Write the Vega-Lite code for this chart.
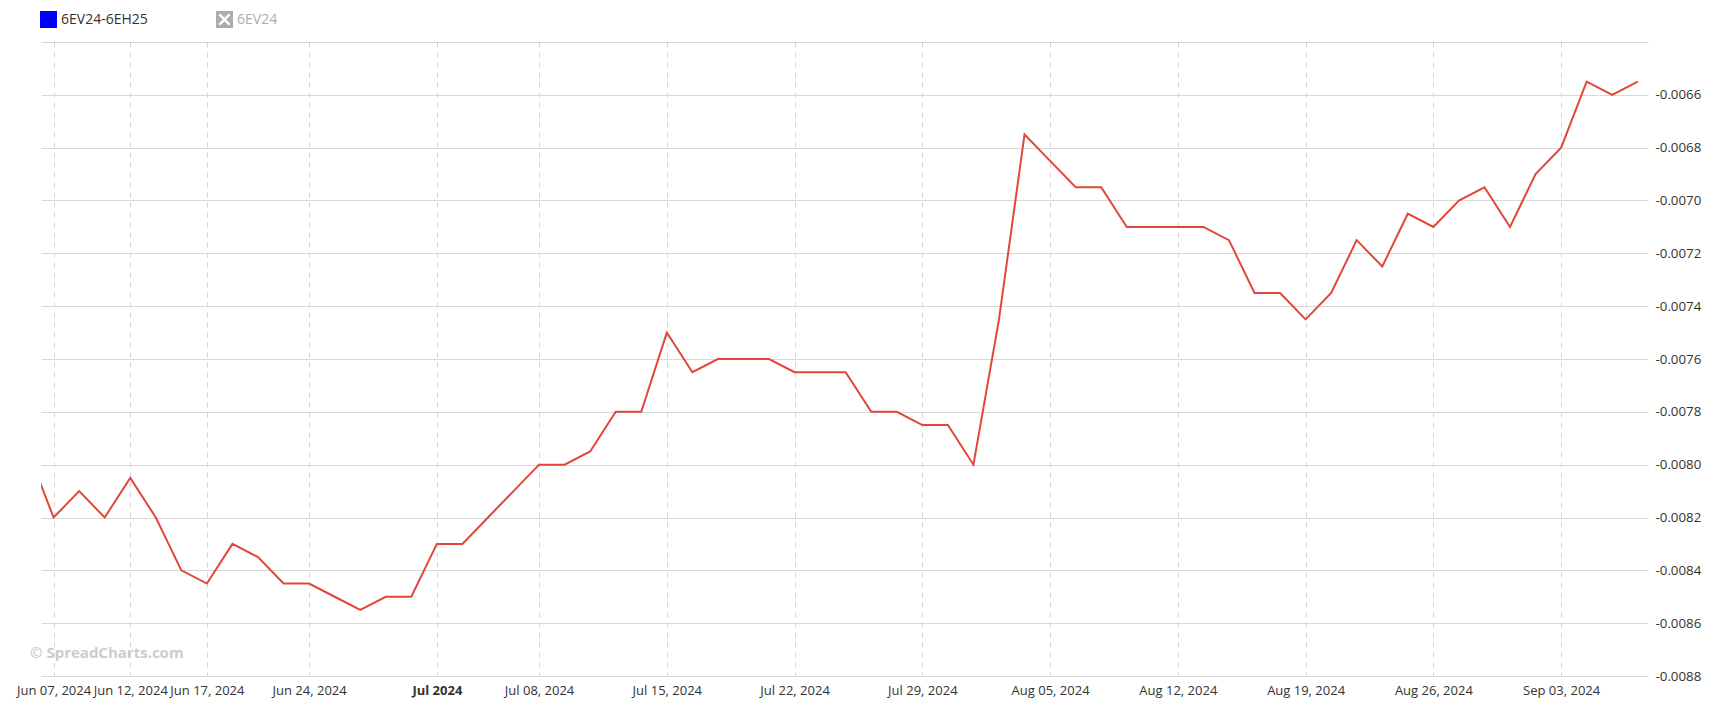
{
  "$schema": "https://vega.github.io/schema/vega-lite/v6.json",
  "width": 1607,
  "height": 634,
  "autosize": {"type": "none"},
  "padding": {"left": 41, "top": 42, "right": 85, "bottom": 37},
  "background": "white",
  "config": {"font": "Open Sans", "view": {"stroke": null}},
  "datasets": {
    "spread": [
      {"i": 0, "date": "2024-06-06", "value": -0.00795},
      {"i": 1, "date": "2024-06-07", "value": -0.0082},
      {"i": 2, "date": "2024-06-10", "value": -0.0081},
      {"i": 3, "date": "2024-06-11", "value": -0.0082},
      {"i": 4, "date": "2024-06-12", "value": -0.00805},
      {"i": 5, "date": "2024-06-13", "value": -0.0082},
      {"i": 6, "date": "2024-06-14", "value": -0.0084},
      {"i": 7, "date": "2024-06-17", "value": -0.00845},
      {"i": 8, "date": "2024-06-18", "value": -0.0083},
      {"i": 9, "date": "2024-06-20", "value": -0.00835},
      {"i": 10, "date": "2024-06-21", "value": -0.00845},
      {"i": 11, "date": "2024-06-24", "value": -0.00845},
      {"i": 12, "date": "2024-06-25", "value": -0.0085},
      {"i": 13, "date": "2024-06-26", "value": -0.00855},
      {"i": 14, "date": "2024-06-27", "value": -0.0085},
      {"i": 15, "date": "2024-06-28", "value": -0.0085},
      {"i": 16, "date": "2024-07-01", "value": -0.0083},
      {"i": 17, "date": "2024-07-02", "value": -0.0083},
      {"i": 18, "date": "2024-07-03", "value": -0.0082},
      {"i": 19, "date": "2024-07-05", "value": -0.0081},
      {"i": 20, "date": "2024-07-08", "value": -0.008},
      {"i": 21, "date": "2024-07-09", "value": -0.008},
      {"i": 22, "date": "2024-07-10", "value": -0.00795},
      {"i": 23, "date": "2024-07-11", "value": -0.0078},
      {"i": 24, "date": "2024-07-12", "value": -0.0078},
      {"i": 25, "date": "2024-07-15", "value": -0.0075},
      {"i": 26, "date": "2024-07-16", "value": -0.00765},
      {"i": 27, "date": "2024-07-17", "value": -0.0076},
      {"i": 28, "date": "2024-07-18", "value": -0.0076},
      {"i": 29, "date": "2024-07-19", "value": -0.0076},
      {"i": 30, "date": "2024-07-22", "value": -0.00765},
      {"i": 31, "date": "2024-07-23", "value": -0.00765},
      {"i": 32, "date": "2024-07-24", "value": -0.00765},
      {"i": 33, "date": "2024-07-25", "value": -0.0078},
      {"i": 34, "date": "2024-07-26", "value": -0.0078},
      {"i": 35, "date": "2024-07-29", "value": -0.00785},
      {"i": 36, "date": "2024-07-30", "value": -0.00785},
      {"i": 37, "date": "2024-07-31", "value": -0.008},
      {"i": 38, "date": "2024-08-01", "value": -0.00745},
      {"i": 39, "date": "2024-08-02", "value": -0.00675},
      {"i": 40, "date": "2024-08-05", "value": -0.00685},
      {"i": 41, "date": "2024-08-06", "value": -0.00695},
      {"i": 42, "date": "2024-08-07", "value": -0.00695},
      {"i": 43, "date": "2024-08-08", "value": -0.0071},
      {"i": 44, "date": "2024-08-09", "value": -0.0071},
      {"i": 45, "date": "2024-08-12", "value": -0.0071},
      {"i": 46, "date": "2024-08-13", "value": -0.0071},
      {"i": 47, "date": "2024-08-14", "value": -0.00715},
      {"i": 48, "date": "2024-08-15", "value": -0.00735},
      {"i": 49, "date": "2024-08-16", "value": -0.00735},
      {"i": 50, "date": "2024-08-19", "value": -0.00745},
      {"i": 51, "date": "2024-08-20", "value": -0.00735},
      {"i": 52, "date": "2024-08-21", "value": -0.00715},
      {"i": 53, "date": "2024-08-22", "value": -0.00725},
      {"i": 54, "date": "2024-08-23", "value": -0.00705},
      {"i": 55, "date": "2024-08-26", "value": -0.0071},
      {"i": 56, "date": "2024-08-27", "value": -0.007},
      {"i": 57, "date": "2024-08-28", "value": -0.00695},
      {"i": 58, "date": "2024-08-29", "value": -0.0071},
      {"i": 59, "date": "2024-08-30", "value": -0.0069},
      {"i": 60, "date": "2024-09-03", "value": -0.0068},
      {"i": 61, "date": "2024-09-04", "value": -0.00655},
      {"i": 62, "date": "2024-09-05", "value": -0.0066},
      {"i": 63, "date": "2024-09-06", "value": -0.00655}
    ],
    "series": [
      {"series": "6EV24-6EH25"},
      {"series": "6EV24"}
    ],
    "mark": [
      {"t": "© SpreadCharts.com"}
    ]
  },
  "layer": [
    {
      "data": {"name": "spread"},
      "mark": {"type": "line", "color": "#e0473a", "strokeWidth": 2, "clip": true},
      "encoding": {
        "x": {
          "field": "i",
          "type": "quantitative",
          "scale": {"domain": [0.507, 63.4], "nice": false, "zero": false},
          "axis": {
            "title": null,
            "orient": "bottom",
            "values": [1, 4, 7, 11, 16, 20, 25, 30, 35, 40, 45, 50, 55, 60],
            "labelExpr": "['Jun 07, 2024','Jun 12, 2024','Jun 17, 2024','Jun 24, 2024','Jul 2024','Jul 08, 2024','Jul 15, 2024','Jul 22, 2024','Jul 29, 2024','Aug 05, 2024','Aug 12, 2024','Aug 19, 2024','Aug 26, 2024','Sep 03, 2024'][indexof([1,4,7,11,16,20,25,30,35,40,45,50,55,60], datum.value)]",
            "labelFontWeight": {"condition": {"test": "datum.value == 16", "value": "bold"}, "value": "normal"},
            "labelOverlap": false,
            "labelFlush": false,
            "labelFontSize": 13,
            "labelColor": "#333333",
            "labelPadding": 8,
            "ticks": false,
            "domain": false,
            "grid": true,
            "gridColor": "#d4d4d4",
            "gridDash": [5, 5],
            "gridWidth": 1
          }
        },
        "y": {
          "field": "value",
          "type": "quantitative",
          "scale": {"domain": [-0.0088, -0.0064], "nice": false, "zero": false},
          "axis": {
            "title": null,
            "orient": "right",
            "values": [-0.0088, -0.0086, -0.0084, -0.0082, -0.008, -0.0078, -0.0076, -0.0074, -0.0072, -0.007, -0.0068, -0.0066, -0.0064],
            "labelExpr": "datum.value > -0.00645 ? '' : '-' + format(-datum.value, '.4f')",
            "labelFontSize": 13.3,
            "labelColor": "#333333",
            "labelPadding": 7,
            "labelAlign": "left",
            "ticks": false,
            "domain": false,
            "grid": true,
            "gridColor": "#d8d8d8",
            "gridWidth": 1
          }
        }
      }
    },
    {
      "data": {"name": "mark"},
      "mark": {"type": "text", "align": "left", "baseline": "middle", "fontSize": 15, "fontWeight": "bold", "color": "#cccccc"},
      "encoding": {
        "x": {"datum": 0.077, "type": "quantitative"},
        "y": {"datum": -0.008713, "type": "quantitative"},
        "text": {"field": "t"}
      }
    },
    {
      "data": {"name": "series"},
      "mark": {"type": "point", "filled": true, "opacity": 0},
      "encoding": {
        "x": {"datum": 10, "type": "quantitative"},
        "y": {"datum": -0.0075, "type": "quantitative"},
        "color": {
          "field": "series",
          "type": "nominal",
          "scale": {"domain": ["6EV24-6EH25", "6EV24"], "range": ["#0000ff", "#a9aeae"]},
          "legend": {
            "title": null,
            "orient": "none",
            "legendX": -1,
            "legendY": -31,
            "direction": "horizontal",
            "padding": 0,
            "offset": 0,
            "symbolSize": 289,
            "symbolOpacity": 1,
            "symbolStrokeWidth": 0,
            "labelFontSize": 14,
            "labelColor": "#333333",
            "labelOffset": 4,
            "columnPadding": 68,
            "encode": {
              "symbols": {"update": {"opacity": {"value": 1}}},
              "labels": {"update": {"fill": {"signal": "datum.value == '6EV24' ? '#a9aeae' : '#333333'"}}}
            }
          }
        },
        "shape": {
          "field": "series",
          "type": "nominal",
          "scale": {"domain": ["6EV24-6EH25", "6EV24"], "range": ["square", "M-1,-1L1,-1L1,1L-1,1Z M-0.2,0L-0.7,0.5L-0.5,0.7L0,0.2L0.5,0.7L0.7,0.5L0.2,0L0.7,-0.5L0.5,-0.7L0,-0.2L-0.5,-0.7L-0.7,-0.5Z"]}
        }
      }
    }
  ]
}
